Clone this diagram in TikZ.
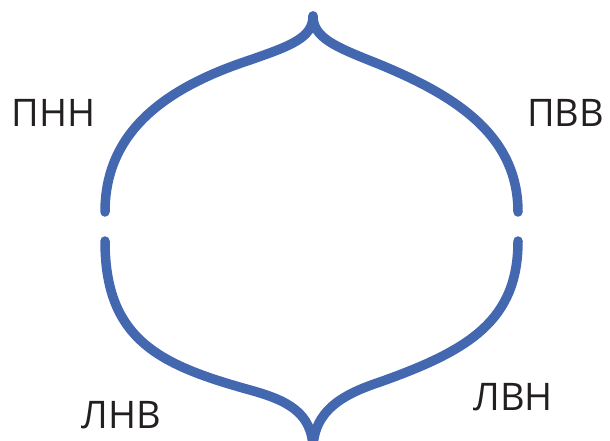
\documentclass[tikz,border=0pt]{standalone}
\usepackage{fontspec}
\setmainfont{Open Sans}
\definecolor{curveblue}{RGB}{68,104,176}
\definecolor{labelgray}{RGB}{35,31,32}
\begin{document}
\begin{tikzpicture}[x=1pt,y=-1pt,
  arc/.style={draw=curveblue,line width=9.5pt,line cap=round},
  lbl/.style={text=labelgray,anchor=base,inner sep=0pt,font=\fontsize{38}{40}\selectfont}]
\useasboundingbox (0,0) rectangle (610,441);
\clip (0,0) rectangle (610,441);
% upper left
\draw[arc] (313,16) .. controls (313,38) and (290,46) .. (250,60)
  .. controls (168,87) and (105,130) .. (105,212);
% upper right
\draw[arc] (313,16) .. controls (313,38) and (336,47) .. (376,63)
  .. controls (455,95) and (518,135) .. (518,212);
% lower left
\draw[arc] (105,241) .. controls (105,340) and (160,365) .. (250,390)
  .. controls (286,400) and (313,412) .. (313,450);
% lower right
\draw[arc] (518,241) .. controls (518,320) and (470,350) .. (380,382)
  .. controls (344,394) and (313,410) .. (313,450);
\node[lbl] (pnn) at (53.5,127) {ПНН};
\node[lbl] (pvv) at (565.5,127) {ПВВ};
\node[lbl] (lnv) at (121,428) {ЛНВ};
\node[lbl] (lvn) at (513,410) {ЛВН};
\end{tikzpicture}
\end{document}
